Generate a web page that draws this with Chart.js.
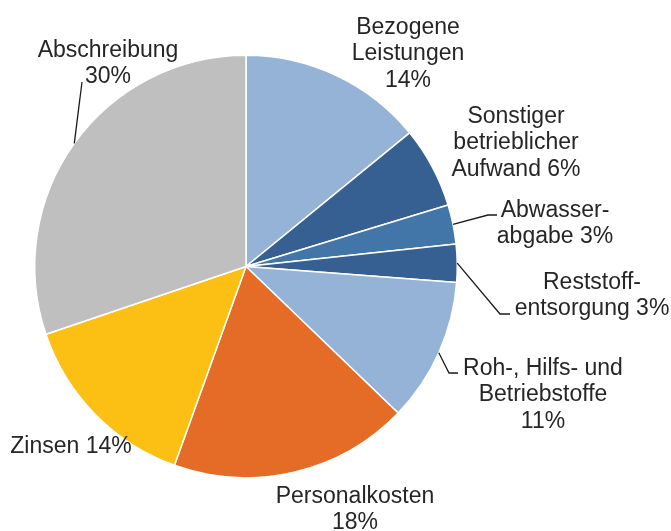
<!DOCTYPE html>
<html>
<head>
<meta charset="utf-8">
<script src="https://cdn.jsdelivr.net/npm/chart.js@4"></script>
<style>
  html, body { margin: 0; padding: 0; background: #fff; }
  #wrap { width: 671px; height: 531px; position: relative; }
</style>
</head>
<body>
<div id="wrap"><canvas id="chart"></canvas></div>
<script>
// ---------------- data ----------------
const categories = [
  'Bezogene Leistungen',
  'Sonstiger betrieblicher Aufwand',
  'Abwasserabgabe',
  'Reststoffentsorgung',
  'Roh-, Hilfs- und Betriebstoffe',
  'Personalkosten',
  'Zinsen',
  'Abschreibung'
];
const shares = [14.1, 6.2, 3.0, 2.9, 11.0, 18.3, 14.3, 30.2];
// how each label is broken into lines ("%" gets the rounded share)
const labelLines = [
  ['Bezogene', 'Leistungen', '%'],
  ['Sonstiger', 'betrieblicher', 'Aufwand %'],
  ['Abwasser-', 'abgabe %'],
  ['Reststoff-', 'entsorgung %'],
  ['Roh-, Hilfs- und', 'Betriebstoffe', '%'],
  ['Personalkosten', '%'],
  ['Zinsen %'],
  ['Abschreibung', '%']
];

// ---------------- style / layout ----------------
const sliceColors = ['#95B3D7', '#366092', '#4275A8', '#366092', '#95B3D7', '#E46C27', '#FCC014', '#BFBFBF'];
// label placement: centre x, first baseline, leader elbow (optional)
const labelPos = [
  { x: 408, y: 34 },
  { x: 516, y: 123 },
  { x: 555, y: 217, elbow: [488, 215], end: [497, 215] },
  { x: 592, y: 289, elbow: [500, 314], end: [510, 314] },
  { x: 543, y: 375, elbow: [449, 373], end: [458, 373] },
  { x: 355, y: 503 },
  { x: 71, y: 453 },
  { x: 108, y: 57, end: [82, 82] }
];

const labelPlugin = {
  id: 'pieLabels',
  afterDraw(chart) {
    const ctx = chart.ctx;
    const meta = chart.getDatasetMeta(0);
    ctx.save();
    ctx.font = '23px "Liberation Sans", Arial, sans-serif';
    ctx.fillStyle = '#262626';
    ctx.textAlign = 'center';
    ctx.textBaseline = 'alphabetic';
    meta.data.forEach((arc, i) => {
      const pos = labelPos[i];
      const pct = Math.round(shares[i]) + '%';
      labelLines[i].forEach((line, k) => {
        ctx.fillText(line.replace('%', pct), pos.x, pos.y + k * 26.3);
      });
      if (pos.end) {
        const mid = (arc.startAngle + arc.endAngle) / 2;
        const sx = arc.x + Math.cos(mid) * arc.outerRadius;
        const sy = arc.y + Math.sin(mid) * arc.outerRadius;
        ctx.beginPath();
        ctx.strokeStyle = '#1a1a1a';
        ctx.lineWidth = 1.3;
        ctx.moveTo(sx, sy);
        if (pos.elbow) ctx.lineTo(pos.elbow[0], pos.elbow[1]);
        ctx.lineTo(pos.end[0], pos.end[1]);
        ctx.stroke();
      }
    });
    ctx.restore();
  }
};

new Chart(document.getElementById('chart'), {
  type: 'pie',
  data: {
    labels: categories,
    datasets: [{
      data: shares,
      backgroundColor: sliceColors,
      borderColor: '#ffffff',
      borderWidth: 1.5
    }]
  },
  options: {
    responsive: true,
    maintainAspectRatio: false,
    animation: false,
    layout: {
      padding: { left: 34, right: 213, top: 54.5, bottom: 52.5 }
    },
    plugins: {
      legend: { display: false },
      tooltip: { enabled: false }
    }
  },
  plugins: [labelPlugin]
});
</script>
</body>
</html>
